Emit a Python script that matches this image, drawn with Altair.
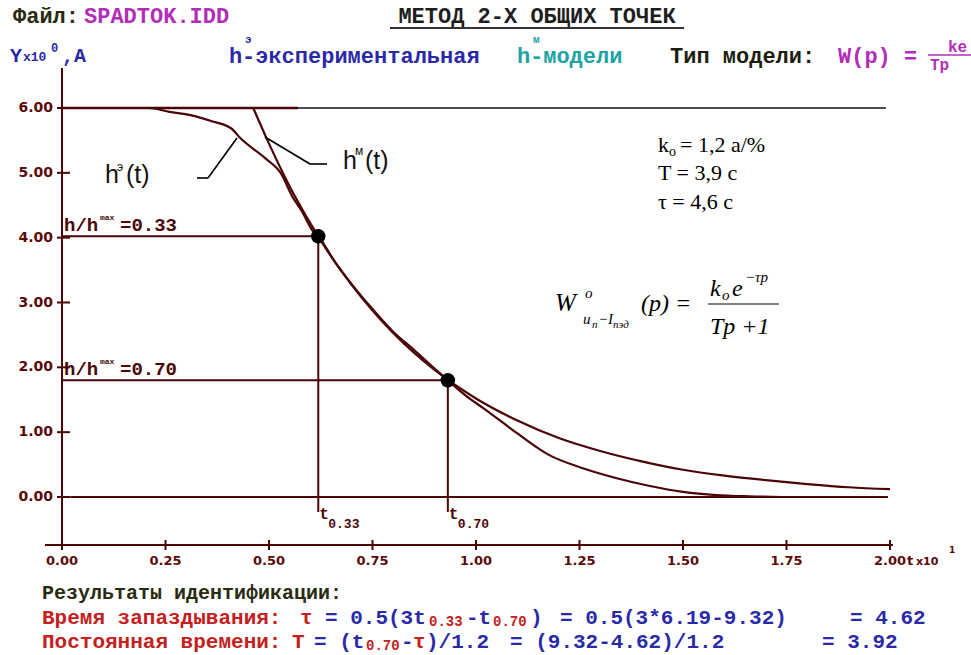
import altair as alt
import pandas as pd

# ---------------------------------------------------------------
# Data (time in units of 10 s, output Y in A)
# ---------------------------------------------------------------
# experimental step response h_э(t)
t_exp = [0.00, 0.21, 0.26, 0.31, 0.36, 0.41, 0.43, 0.49, 0.53, 0.556, 0.58, 0.606,
         0.619, 0.66, 0.70, 0.75, 0.80, 0.85, 0.90, 0.932, 0.976, 1.02, 1.10, 1.176,
         1.26, 1.34, 1.42, 1.50, 1.58, 1.66, 1.74]
h_exp = [6.00, 6.00, 5.94, 5.89, 5.80, 5.68, 5.54, 5.23, 4.98, 4.64, 4.40, 4.10,
         4.02, 3.62, 3.28, 2.90, 2.55, 2.27, 1.98, 1.80, 1.56, 1.36, 0.98, 0.65,
         0.44, 0.29, 0.17, 0.08, 0.03, 0.01, 0.00]

# model step response h_м(t)
t_mod = [0.462, 0.50, 0.55, 0.60, 0.65, 0.70, 0.80, 0.90, 1.00, 1.10, 1.20, 1.30,
         1.40, 1.50, 1.60, 1.70, 1.80, 1.90, 2.00]
h_mod = [6.00, 5.45, 4.79, 4.22, 3.71, 3.27, 2.53, 1.96, 1.52, 1.18, 0.91, 0.71,
         0.55, 0.42, 0.33, 0.26, 0.20, 0.15, 0.12]

# initial level and its extent
h_start = 6.0
t_level_dark = [0.0, 0.57]
t_level_grey = [0.57, 1.99]
t_zero_line = [0.02, 1.995]

# two common points h/h_max = 0.33 and 0.70
ratio_text = ["0.33", "0.70"]
t_points = [0.619, 0.932]
h_points = [4.02, 1.80]
drop_to = -0.23

# axis ticks
y_ticks = [0, 1, 2, 3, 4, 5, 6]
y_tick_labels = ["0.00", "1.00", "2.00", "3.00", "4.00", "5.00", "6.00"]
x_ticks = [0.0, 0.25, 0.5, 0.75, 1.0, 1.25, 1.5, 1.75, 2.0]
x_tick_labels = ["0.00", "0.25", "0.50", "0.75", "1.00", "1.25", "1.50", "1.75", "2.00"]

# ---------------------------------------------------------------
# Styling
# ---------------------------------------------------------------
MONO = "Liberation Mono"
SANS = "Liberation Sans"
SERIF = "Liberation Serif"
TICKF = "DejaVu Sans"
LINE = "#4a0606"
TICKC = "#5a0a0a"
RED = "#c42020"
BLUE = "#2a2aa8"
TEAL = "#1fa3a3"
MAG = "#b22eb8"
OLIVE = "#2a2a10"

XS = alt.Scale(domain=[0, 2], range=[62, 890], nice=False, zero=False)
YS = alt.Scale(domain=[0, 6], range=[497, 108], nice=False, zero=False)

ONE = pd.DataFrame({"k": [0]})


def X(field):
    return alt.X(field, type="quantitative", scale=XS, axis=None)


def Y(field):
    return alt.Y(field, type="quantitative", scale=YS, axis=None)


def label(text, x, y, size=20, color="#000000", font=MONO, weight="bold",
          align="left", baseline="middle", style="normal"):
    return alt.Chart(ONE).mark_text(
        text=text, font=font, fontSize=size, fontWeight=weight, fontStyle=style,
        color=color, align=align, baseline=baseline
    ).encode(x=alt.value(x), y=alt.value(y))


def seg_px(x1, y1, x2, y2, color="#000000", width=1.6):
    return alt.Chart(ONE).mark_rule(color=color, strokeWidth=width).encode(
        x=alt.value(x1), y=alt.value(y1), x2=alt.value(x2), y2=alt.value(y2))


layers = []

# ---------------- axes (drawn by hand: offset frame) ----------------
layers.append(seg_px(62, 68, 62, 548, LINE, 2))          # y axis
layers.append(seg_px(45, 545, 893, 545, LINE, 2))        # x axis

ytk = pd.DataFrame({"v": y_ticks, "lab": y_tick_labels})
layers.append(alt.Chart(ytk).mark_rule(color=LINE, strokeWidth=2).encode(
    y=Y("v"), x=alt.value(57), x2=alt.value(70)))
layers.append(alt.Chart(ytk).mark_text(
    font=TICKF, fontSize=14, fontWeight="bold", color=TICKC, align="right",
    baseline="middle").encode(y=Y("v"), x=alt.value(53), text="lab:N"))

xtk = pd.DataFrame({"v": x_ticks, "lab": x_tick_labels})
layers.append(alt.Chart(xtk).mark_rule(color=LINE, strokeWidth=2).encode(
    x=X("v"), y=alt.value(540), y2=alt.value(550)))
layers.append(alt.Chart(xtk).mark_text(
    font=TICKF, fontSize=13, fontWeight="bold", color=TICKC, align="center",
    baseline="middle").encode(x=X("v"), y=alt.value(561), text="lab:N"))
layers.append(label("t", 907, 561, 13, TICKC, TICKF))
layers.append(label("x10", 916, 562, 11, TICKC, TICKF))
layers.append(label("1", 949, 550, 9, TICKC, TICKF))

# ---------------- reference lines ----------------
level = pd.DataFrame({"t0": [t_level_dark[0]], "t1": [t_level_dark[1]],
                      "h": [h_start]})
layers.append(alt.Chart(level).mark_rule(color=LINE, strokeWidth=2.4).encode(
    x=X("t0"), x2="t1:Q", y=Y("h")))
level2 = pd.DataFrame({"t0": [t_level_grey[0]], "t1": [t_level_grey[1]],
                       "h": [h_start]})
layers.append(alt.Chart(level2).mark_rule(color="#4a4a60", strokeWidth=1.8).encode(
    x=X("t0"), x2="t1:Q", y=Y("h")))
zero = pd.DataFrame({"t0": [t_zero_line[0]], "t1": [t_zero_line[1]], "h": [0.0]})
layers.append(alt.Chart(zero).mark_rule(color=LINE, strokeWidth=2).encode(
    x=X("t0"), x2="t1:Q", y=Y("h")))

pts = pd.DataFrame({"t": t_points, "h": h_points, "z": [0.0, 0.0],
                    "bottom": [drop_to, drop_to]})
layers.append(alt.Chart(pts).mark_rule(color=LINE, strokeWidth=2).encode(
    x=X("z"), x2="t:Q", y=Y("h")))
layers.append(alt.Chart(pts).mark_rule(color=LINE, strokeWidth=2).encode(
    x=X("t"), y=Y("h"), y2="bottom:Q"))

# ---------------- curves ----------------
exp_df = pd.DataFrame({"t": t_exp, "h": h_exp})
mod_df = pd.DataFrame({"t": t_mod, "h": h_mod})
layers.append(alt.Chart(exp_df).mark_line(
    color=LINE, strokeWidth=2.2, interpolate="monotone").encode(x=X("t"), y=Y("h")))
layers.append(alt.Chart(mod_df).mark_line(
    color=LINE, strokeWidth=2.2, interpolate="monotone").encode(x=X("t"), y=Y("h")))

layers.append(alt.Chart(pts).mark_circle(color="#000000", opacity=1, size=210).encode(
    x=X("t"), y=Y("h")))

# ---------------- level labels ----------------
for hv, txt in zip(h_points, ratio_text):
    ly = 497 - hv * 64.83 - 11
    layers.append(label("h/h", 64, ly, 19, LINE))
    layers.append(label("max", 100, ly - 7, 8, LINE))
    layers.append(label("=" + txt, 120, ly, 19, LINE))

for tv, txt in zip(t_points, ratio_text):
    px = 62 + tv * 414
    layers.append(label("t", px + 1, 514, 16, LINE))
    layers.append(label(txt, px + 10, 524, 13, LINE))

# ---------------- curve call-outs ----------------
layers.append(label("h", 105, 183, 25, "#111111", SANS, "normal", baseline="alphabetic"))
layers.append(label("э", 117, 171, 12, "#111111", SANS, "normal", baseline="alphabetic"))
layers.append(label("(t)", 126, 183, 25, "#111111", SANS, "normal", baseline="alphabetic"))
layers.append(seg_px(197, 178, 208, 178))
layers.append(seg_px(208, 178, 237, 138))

layers.append(label("h", 343, 169, 25, "#111111", SANS, "normal", baseline="alphabetic"))
layers.append(label("м", 355, 155, 12, "#111111", SANS, "normal", baseline="alphabetic"))
layers.append(label("(t)", 365, 169, 25, "#111111", SANS, "normal", baseline="alphabetic"))
layers.append(seg_px(310, 164, 327, 164))
layers.append(seg_px(265, 137, 310, 164))

# ---------------- identified parameters ----------------
rm = dict(color="#000000", font=SERIF, weight="normal", baseline="alphabetic")
layers.append(label("k", 658, 152, 22, **rm))
layers.append(label("o", 669, 156, 14, **rm))
layers.append(label("= 1,2 а/%", 680, 152, 22, **rm))
layers.append(label("T = 3,9 с", 658, 180, 22, **rm))
layers.append(label("τ = 4,6 с", 658, 209, 22, **rm))

# transfer function
it = dict(color="#000000", font=SERIF, weight="normal", baseline="alphabetic", style="italic")
layers.append(label("W", 555, 311, 25, **it))
layers.append(label("o", 585, 298, 15, **it))
layers.append(label("u", 583, 324, 15, **it))
layers.append(label("n", 592, 328, 11, **it))
layers.append(label("−I", 598, 324, 15, **it))
layers.append(label("пэд", 613, 328, 11, **it))
layers.append(label("(p) =", 641, 311, 24, **it))
layers.append(label("k", 710, 296, 24, **it))
layers.append(label("o", 722, 300, 15, **it))
layers.append(label("e", 732, 296, 24, **it))
layers.append(label("−τp", 745, 282, 15, **it))
layers.append(seg_px(708, 304, 779, 304, "#000000", 1.2))
layers.append(label("Tp +1", 710, 334, 24, **it))

# ---------------- header ----------------
layers.append(label("Файл:", 13, 16, 22, OLIVE))
layers.append(label("SPADTOK.IDD", 84, 16, 22, MAG))
layers.append(label("МЕТОД 2-Х ОБЩИХ ТОЧЕК", 537, 16, 22, "#1e1e1e", align="center"))
layers.append(seg_px(390, 28, 684, 28, "#333333", 2))

layers.append(label("Y", 10, 56, 20, BLUE))
layers.append(label("x10", 23, 57, 13, BLUE))
layers.append(label("0", 51, 48, 12, BLUE))
layers.append(label(",A", 62, 56, 20, BLUE))
layers.append(label("h", 229, 56, 22, BLUE))
layers.append(label("э", 245, 40, 11, BLUE))
layers.append(label("-экспериментальная", 242, 56, 22, BLUE))
layers.append(label("h", 517, 56, 22, TEAL))
layers.append(label("м", 533, 40, 11, TEAL))
layers.append(label("-модели", 530, 56, 22, TEAL))
layers.append(label("Тип модели:", 670, 56, 22, "#1e1e10"))
layers.append(label("W(p) =", 838, 56, 22, MAG))
layers.append(label("ke", 948, 47, 16, MAG))
layers.append(seg_px(928, 55, 971, 55, MAG, 1.5))
layers.append(label("Tp", 930, 65, 16, MAG))

# ---------------- identification results ----------------
layers.append(label("Результаты идентификации:", 42, 593, 20, OLIVE))

L2 = 618
layers.append(label("Время запаздывания:", 42, L2, 21, RED))
layers.append(label("τ", 300, L2, 21, RED))
layers.append(label("= 0.5(3t", 325, L2, 21, BLUE))
layers.append(label("0.33", 429, L2 + 4, 14, RED))
layers.append(label("-t", 466, L2, 21, BLUE))
layers.append(label("0.70", 493, L2 + 4, 14, RED))
layers.append(label(")", 530, L2, 21, BLUE))
layers.append(label("= 0.5(3*6.19-9.32)", 560, L2, 21, BLUE))
layers.append(label("= 4.62", 850, L2, 21, BLUE))

L3 = 642
layers.append(label("Постоянная времени:", 42, L3, 21, RED))
layers.append(label("T", 292, L3, 21, RED))
layers.append(label("= (t", 314, L3, 21, BLUE))
layers.append(label("0.70", 366, L3 + 4, 14, RED))
layers.append(label("-", 401, L3, 21, BLUE))
layers.append(label("τ", 413, L3, 21, RED))
layers.append(label(")/1.2", 426, L3, 21, BLUE))
layers.append(label("= (9.32-4.62)/1.2", 510, L3, 21, BLUE))
layers.append(label("= 3.92", 822, L3, 21, BLUE))

chart = alt.layer(*layers).properties(
    width=971, height=655, padding=0, background="white",
    autosize=alt.AutoSizeParams(type="none"),
).configure_view(stroke=None)

chart.save("out.html", embed_options={"renderer": "svg", "actions": False})
